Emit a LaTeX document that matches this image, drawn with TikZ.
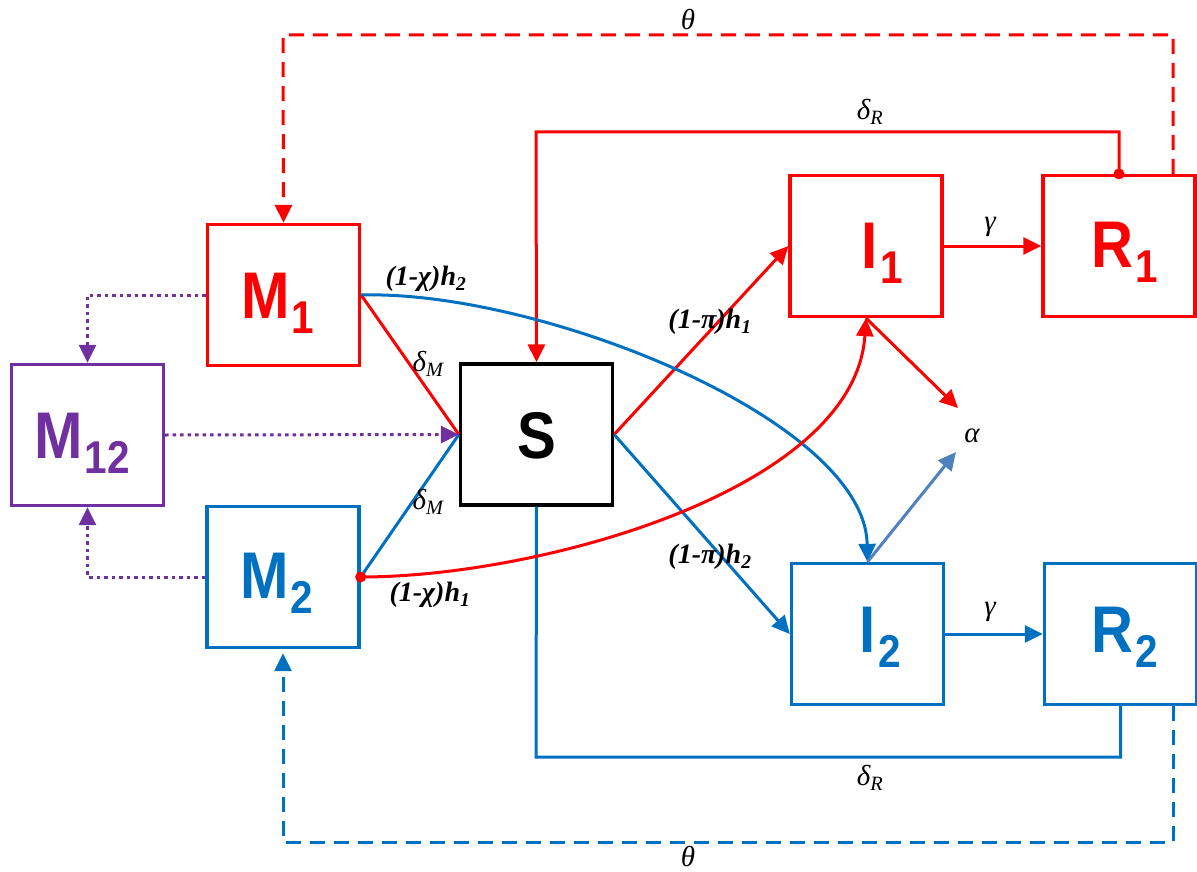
\documentclass[tikz,border=0pt]{standalone}
\usepackage{graphicx}
\usepackage{fontspec}
\setmainfont{Liberation Serif}
\newfontfamily\boxfont{Liberation Sans}
\usetikzlibrary{arrows.meta}
\definecolor{cred}{HTML}{FF0000}
\definecolor{cblue}{HTML}{0070C0}
\definecolor{cpurple}{HTML}{7030A0}
\definecolor{calpha}{HTML}{4F81BD}
\newcommand{\boxlab}[2]{\scalebox{0.88}[1]{\boxfont\bfseries\fontsize{66}{66}\selectfont #1}\rlap{\kern2pt\raisebox{-15pt}{\scalebox{0.88}[1]{\boxfont\bfseries\fontsize{46}{46}\selectfont #2}}}}
\newcommand{\lbf}{\fontsize{28}{28}\selectfont\bfseries\itshape}
\newcommand{\lgr}{\fontsize{29}{29}\selectfont\itshape}
\begin{document}
\begin{tikzpicture}[x=1pt,y=-1pt,
  cbox/.style={draw, line width=3.3pt, minimum width=152pt, minimum height=141pt, inner sep=0pt},
  blab/.style={anchor=base, inner sep=0pt},
  conn/.style={line width=3pt},
  arr/.style={-{Triangle[length=18pt,width=17pt]}},
  reddash/.style={conn, cred, dash pattern=on 15pt off 9pt},
  bluedash/.style={conn, cblue, dash pattern=on 15pt off 9pt},
  pdot/.style={conn, cpurple, dash pattern=on 3.5pt off 4pt},
  elab/.style={inner sep=0pt, text=black}]
\useasboundingbox (0,0) rectangle (1197,872);
% boxes
\node[cbox, cred] (M1) at (283.5,295) {};
\node[cbox, cpurple] (M12) at (87.5,435) {};
\node[cbox, cblue] (M2) at (283,577) {};
\node[cbox, black] (S) at (536.5,434.5) {};
\node[cbox, cred] (I1) at (866,246) {};
\node[cbox, cred] (R1) at (1119,246) {};
\node[cbox, cblue] (I2) at (867.5,634) {};
\node[cbox, cblue] (R2) at (1120.5,634) {};
% box labels
\node[blab, text=cred] (tM1) at (265.5,318) {\boxlab{M}{1}};
\node[blab, text=cpurple] (tM12) at (58.5,458) {\boxlab{M}{12}};
\node[blab, text=cblue] (tM2) at (264.5,598) {\boxlab{M}{2}};
\node[blab, text=black] (tS) at (536.5,458) {\boxlab{S}{}};
\node[blab, text=cred] (tI1) at (870,268) {\boxlab{I}{1}};
\node[blab, text=cred] (tR1) at (1112.5,267) {\boxlab{R}{1}};
\node[blab, text=cblue] (tI2) at (868,652) {\boxlab{I}{2}};
\node[blab, text=cblue] (tR2) at (1112.5,652) {\boxlab{R}{2}};
% coordinates
\coordinate (tl) at (283,35);
\coordinate (dr1) at (536,132);
\coordinate (dr2) at (536,757);
\coordinate (bl) at (283,842);
\coordinate (a1) at (958,408);
\coordinate (a2) at (956,452);
% dashed theta loops
\draw[reddash, arr] ([xshift=54pt]R1.north) |- (tl) -- (M1.north);
\draw[bluedash, arr] ([xshift=52.5pt]R2.south) |- (bl) -- ([yshift=-4pt]M2.south);
% delta_R lines
\draw[conn, cred, arr] (R1.north) |- (dr1) -- (S.north);
\fill[cred] (R1.north) circle (5.5pt);
\draw[conn, cblue] (R2.south) |- (dr2) -- (S.south);
% delta_M
\draw[conn, cred] (M1.east) -- (S.west);
\draw[conn, cblue] (M2.east) -- (S.west);
% purple dotted
\draw[pdot, arr] (M1.west) -| (M12.north);
\draw[pdot, arr] (M2.west) -| (M12.south);
\draw[pdot, arr] (M12.east) -- (S.west);
% infections
\draw[conn, cred, arr] (S.east) -- (I1.west);
\draw[conn, cblue, arr] (S.east) -- (I2.west);
\draw[conn, cblue, arr] (M1.east) .. controls (540,290) and (865,420) .. (I2.north);
\draw[conn, cred, arr] (M2.east) .. controls (540,577) and (855,490) .. (I1.south);
\fill[cred] (M2.east) circle (5.5pt);
% recovery
\draw[conn, cred, arr] (I1.east) -- (R1.west);
\draw[conn, cblue, arr] (I2.east) -- (R2.west);
% death
\draw[conn, cred, arr] (I1.south) -- (a1);
\draw[conn, calpha, arr] (I2.north) -- (a2);
% labels
\node[elab] (th1) at (688,20) {\lgr θ};
\node[elab] (th2) at (688,856) {\lgr θ};
\node[elab] (dR1) at (870,112) {\lgr δ\textsubscript{\itshape R}};
\node[elab] (dR2) at (870,778) {\lgr δ\textsubscript{\itshape R}};
\node[elab] (g1) at (990,227) {\lgr γ};
\node[elab] (g2) at (990,612) {\lgr γ};
\node[elab] (al) at (972,436) {\lgr α};
\node[elab] (dM1) at (428,364) {\lgr δ\textsubscript{\itshape M}};
\node[elab] (dM2) at (428,502) {\lgr δ\textsubscript{\itshape M}};
\node[elab] (ch2) at (426,279) {\lbf (1-χ)h\textsubscript{2}};
\node[elab] (ch1) at (430,595) {\lbf (1-χ)h\textsubscript{1}};
\node[elab] (ph1) at (710,322) {\lbf (1-π)h\textsubscript{1}};
\node[elab] (ph2) at (710,557) {\lbf (1-π)h\textsubscript{2}};
\end{tikzpicture}
\end{document}
